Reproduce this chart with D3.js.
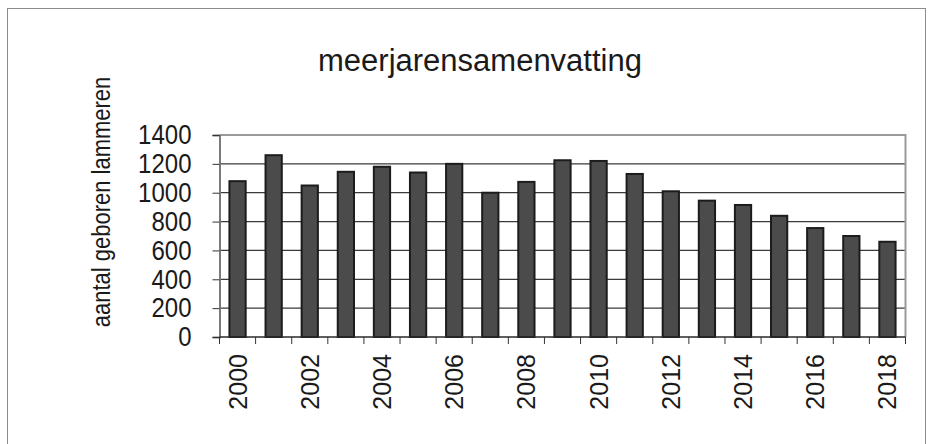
<!DOCTYPE html>
<html lang="nl">
  <head>
    <meta charset="utf-8">
    <title>meerjarensamenvatting</title>
    <style>
      body { margin: 0; background: #fff; }
      svg { display: block; font-family: "Liberation Sans", Arial, sans-serif; }
    </style>
    <script src="https://d3js.org/d3.v7.min.js"></script>
  </head>
  <body>
    <script>
      // data
      const years = ['2000','2001','2002','2003','2004','2005','2006','2007','2008','2009',
                     '2010','2011','2012','2013','2014','2015','2016','2017','2018'];
      const lambs = [1080, 1260, 1050, 1145, 1180, 1140, 1200, 1000, 1075, 1225,
                     1220, 1130, 1010, 945, 915, 840, 755, 700, 660];
      const yTicks = [0, 200, 400, 600, 800, 1000, 1200, 1400];
      const labelYears = years.filter((d, i) => i % 2 === 0);

      const width = 936, height = 444;
      const plot = { left: 219.5, right: 905.5, top: 135, bottom: 337 };

      const svg = d3.select('body').append('svg')
                    .attr('width', width)
                    .attr('height', height);

      // outer frame
      svg.append('rect')
        .attr('x', 7.5).attr('y', 8.5)
        .attr('width', 918).attr('height', 500)
        .attr('fill', 'none')
        .attr('stroke', '#8c8c8c')
        .attr('stroke-width', 1);

      const x = d3.scaleBand()
                  .domain(years)
                  .range([plot.left, plot.right])
                  .paddingInner(0.55)
                  .paddingOuter(0.275);

      const y = d3.scaleLinear()
                  .domain([0, 1400])
                  .range([plot.bottom, plot.top]);

      // gridlines
      svg.append('g')
        .selectAll('line')
        .data(yTicks.filter(d => d > 0 && d < 1400))
        .join('line')
          .attr('x1', plot.left).attr('x2', plot.right)
          .attr('y1', d => y(d)).attr('y2', d => y(d))
          .attr('stroke', '#3a3a3a')
          .attr('stroke-width', 1.2);

      // top and right border of plot area
      svg.append('path')
        .attr('d', `M${plot.left},${y(1400)}H${plot.right}V${plot.bottom}`)
        .attr('fill', 'none')
        .attr('stroke', '#9a9a9a')
        .attr('stroke-width', 2);

      // bars
      svg.append('g')
        .selectAll('rect')
        .data(years)
        .join('rect')
          .attr('x', d => x(d))
          .attr('y', (d, i) => y(lambs[i]))
          .attr('width', x.bandwidth())
          .attr('height', (d, i) => y(0) - y(lambs[i]))
          .attr('fill', '#4b4b4b')
          .attr('stroke', '#1c1c1c')
          .attr('stroke-width', 2);

      // y axis
      const yAxis = svg.append('g')
        .attr('transform', `translate(${plot.left},0)`)
        .call(d3.axisLeft(y).tickValues(yTicks).tickFormat(d3.format('d')).tickSize(7).tickPadding(21));
      yAxis.select('.domain').attr('stroke', '#7a7a7a').attr('stroke-width', 2);
      yAxis.selectAll('.tick line').attr('stroke', '#333');
      yAxis.selectAll('.tick text')
        .attr('font-size', 24)
        .attr('font-family', '"Liberation Sans", Arial, sans-serif')
        .attr('transform', 'scale(1,1.15)')
        .attr('fill', '#1a1a1a');

      // x axis: ticks on category boundaries
      const bounds = years.map(d => x(d) - x.step() * x.paddingInner() / 2)
                          .concat([plot.right]);
      svg.append('line')
        .attr('x1', plot.left).attr('x2', plot.right)
        .attr('y1', plot.bottom).attr('y2', plot.bottom)
        .attr('stroke', '#2a2a2a')
        .attr('stroke-width', 1.5);
      svg.append('g')
        .selectAll('line')
        .data(bounds)
        .join('line')
          .attr('x1', d => d).attr('x2', d => d)
          .attr('y1', plot.bottom).attr('y2', plot.bottom + 7)
          .attr('stroke', '#333')
          .attr('stroke-width', 1);

      svg.append('g')
        .selectAll('text')
        .data(labelYears)
        .join('text')
          .attr('transform', d => `translate(${x(d) + x.bandwidth() / 2},354) rotate(-90)`)
          .attr('text-anchor', 'end')
          .attr('dy', '0.36em')
          .attr('font-size', 25)
          .attr('fill', '#1a1a1a')
          .text(d => d);

      // titles
      svg.append('text')
        .attr('x', 480).attr('y', 71)
        .attr('text-anchor', 'middle')
        .attr('font-size', 31)
        .attr('fill', '#1a1a1a')
        .text('meerjarensamenvatting');

      svg.append('text')
        .attr('transform', 'translate(110,202) rotate(-90) scale(1,1.2)')
        .attr('text-anchor', 'middle')
        .attr('font-size', 22)
        .attr('fill', '#1a1a1a')
        .text('aantal geboren lammeren');
    </script>
  </body>
</html>
